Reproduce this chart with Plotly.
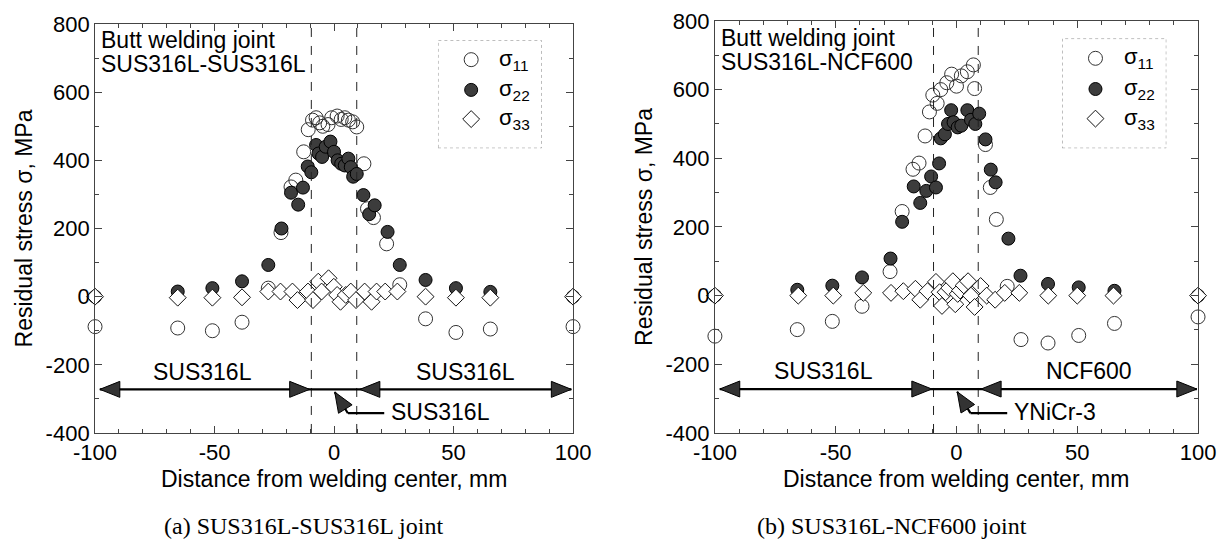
import math
import plotly.graph_objects as go

# ---------------- data: panel (a) SUS316L-SUS316L ----------------
a_s11_x = [-100, -65.4, -50.9, -38.5, -27.5, -22.2, -18, -16, -12.7, -10.8, -9, -7.5, -6, -4.7, -2.5, -1, 1.3, 3, 4.5, 6, 7.8, 9.5, 12.5, 14, 16.5, 22, 27.5, 38.3, 51, 65.4, 100]
a_s11_y = [-88, -92, -100, -75, 25, 188, 322, 342, 425, 490, 518, 525, 510, 500, 505, 525, 530, 520, 525, 518, 513, 498, 390, 258, 232, 155, 35, -65, -105, -95, -88]
a_s22_x = [-100, -65.4, -50.9, -38.5, -27.5, -22, -18, -15, -13, -11, -9.5, -7.5, -6.5, -5, -3.5, -1.5, 0, 1.5, 3, 4.5, 6, 7, 8, 9.5, 12.3, 14.7, 17, 22.4, 27.5, 38.3, 51, 65.4, 100]
a_s22_y = [0, 15, 25, 45, 93, 200, 305, 270, 320, 382, 365, 445, 420, 410, 440, 455, 425, 400, 390, 385, 405, 380, 352, 360, 298, 242, 268, 190, 93, 49, 25, 14, 0]
a_s33_x = [-100, -65.4, -50.9, -38.5, -27.5, -22.4, -17.4, -15.3, -10.9, -8.8, -6.6, -5.2, -2.3, -0.1, 1.3, 2.7, 4.9, 7, 9.2, 12.8, 15.7, 17.8, 21.4, 26.5, 38.3, 51, 65.4, 100]
a_s33_y = [0, -3, -3, -2, 15, 15, 15, -10, 15, -10, 44, 15, 54, 29, 5, -15, 5, 15, -10, 15, -15, 15, 15, 15, 0, -3, -3, 0]

# ---------------- data: panel (b) SUS316L-NCF600 ----------------
b_s11_x = [-100, -65.9, -51.4, -39.1, -27.5, -22.5, -18, -15.5, -13, -11.2, -9.8, -8, -6.5, -4, -2, 0, 2, 4.5, 7, 7.5, 12, 14, 16.5, 21, 26.7, 37.9, 50.6, 65.4, 100]
b_s11_y = [-118, -99, -75, -31, 70, 245, 368, 386, 465, 535, 584, 560, 600, 620, 645, 610, 640, 652, 672, 603, 440, 315, 222, 27, -128, -138, -116, -81, -62]
b_s22_x = [-100, -65.9, -51.4, -39.1, -27.3, -22.5, -17.7, -15, -12.5, -10.5, -8.5, -7.2, -6.5, -4.8, -3.5, -2.2, -1.2, 0.5, 2, 4.5, 6, 7.8, 9.4, 12, 14.2, 16.2, 21.5, 26.5, 37.9, 50.6, 65.4, 100]
b_s22_y = [0, 17, 29, 53, 108, 215, 318, 270, 305, 347, 315, 385, 458, 470, 500, 540, 505, 490, 495, 540, 512, 500, 530, 455, 367, 330, 166, 58, 34, 24, 14, 0]
b_s33_x = [-100, -65.5, -51, -38.6, -27.1, -22, -17, -15, -12, -8.5, -7, -6, -4.5, -3, -1.5, -0.5, 0.5, 1.5, 3, 4.8, 6, 7.5, 10, 12.5, 16, 20, 26, 38, 50, 65, 100]
b_s33_y = [0, 0, 0, 8, 8, 13, 20, -12, 13, 40, 10, -30, 10, 22, 42, -25, 5, 15, 30, 42, 0, -33, 28, 0, -12, 8, 8, 0, 0, 0, 0]

# weld zone boundaries (dashed lines)
a_weld = [-9.5, 9.5]
b_weld = [-9.5, 9]

# axis ticks
x_ticks = [-100, -50, 0, 50, 100]
x_ticktext = ["-100", "-50", "0", "50", "100"]
y_ticks = [-400, -200, 0, 200, 400, 600, 800]
y_ticktext = ["-400", "-200", "0", "200", "400", "600", "800"]

legend_names = ["σ<sub>11</sub>", "σ<sub>22</sub>", "σ<sub>33</sub>"]

FONT = "Liberation Sans, Arial, Helvetica, sans-serif"
SERIF = "Liberation Serif, DejaVu Serif, serif"
FRAME = "#444444"
TXT = 23
W_PX, H = 1220, 551

def py(px):
    """pixel row (from top) -> paper y"""
    return (H - px) / H

fig = go.Figure()

s11_style = dict(symbol="circle-open", size=14, color="#333333", line=dict(width=1, color="#333333"))
s22_style = dict(symbol="circle", size=13, color="#3c3c3c", line=dict(width=1, color="#000000"))
s33_style = dict(symbol="diamond", size=13, color="white", line=dict(width=1, color="#111111"))

for xa, ya, sets in [("x", "y", [(a_s11_x, a_s11_y, s11_style), (a_s22_x, a_s22_y, s22_style), (a_s33_x, a_s33_y, s33_style)]),
                     ("x2", "y2", [(b_s11_x, b_s11_y, s11_style), (b_s22_x, b_s22_y, s22_style), (b_s33_x, b_s33_y, s33_style)])]:
    for xs, ys, st in sets:
        fig.add_trace(go.Scatter(x=xs, y=ys, mode="markers", marker=st, xaxis=xa, yaxis=ya,
                                 showlegend=False, cliponaxis=False, hoverinfo="skip"))

# legend markers on overlay axes
leg_y = [0.82, 0.54, 0.27]
for xa, ya in [("x3", "y3"), ("x4", "y4")]:
    for st, yy in zip([s11_style, s22_style, s33_style], leg_y):
        fig.add_trace(go.Scatter(x=[0.32], y=[yy], mode="markers", marker=st, xaxis=xa, yaxis=ya,
                                 showlegend=False, cliponaxis=False, hoverinfo="skip"))

axis_common = dict(showgrid=False, zeroline=False, showline=True, linecolor=FRAME, linewidth=1,
                   mirror="ticks", ticks="inside", tickcolor=FRAME, ticklen=7,
                   tickfont=dict(family=FONT, size=22, color="black"), automargin=False)

XR, YR = [-100, 100], [-400, 800]
xd_a = [0.0779, 0.4697]
xd_b = [0.586, 0.982]
yd_a = [0.2142, 0.9564]
yd_b = [0.2142, 0.9620]
yt = dict(text="Residual stress σ, MPa", font=dict(family=FONT, size=TXT, color="black"), standoff=6)
fig.update_layout(
    template="none",
    width=W_PX, height=H, margin=dict(l=0, r=0, t=0, b=0),
    paper_bgcolor="white", plot_bgcolor="white",
    font=dict(family=FONT, color="black"),
    xaxis=dict(domain=xd_a, range=XR, tickmode="array", tickvals=x_ticks, ticktext=x_ticktext,
               minor=dict(dtick=10, ticklen=4, ticks="inside", tickcolor=FRAME, showgrid=False),
               anchor="y", **axis_common),
    yaxis=dict(domain=yd_a, range=YR, tickmode="array", tickvals=y_ticks, ticktext=y_ticktext,
               minor=dict(dtick=100, ticklen=4, ticks="inside", tickcolor=FRAME, showgrid=False),
               title=yt, anchor="x", **axis_common),
    xaxis2=dict(domain=xd_b, range=XR, tickmode="array", tickvals=x_ticks, ticktext=x_ticktext,
                minor=dict(dtick=10, ticklen=4, ticks="inside", tickcolor=FRAME, showgrid=False),
                anchor="y2", **axis_common),
    yaxis2=dict(domain=yd_b, range=YR, tickmode="array", tickvals=y_ticks, ticktext=y_ticktext,
                minor=dict(dtick=100, ticklen=4, ticks="inside", tickcolor=FRAME, showgrid=False),
                title=yt, anchor="x2", **axis_common),
    xaxis3=dict(domain=[0.359, 0.444], range=[0, 1], visible=False, anchor="y3"),
    yaxis3=dict(domain=[0.731, 0.927], range=[0, 1], visible=False, anchor="x3"),
    xaxis4=dict(domain=[0.8706, 0.956], range=[0, 1], visible=False, anchor="y4"),
    yaxis4=dict(domain=[0.731, 0.930], range=[0, 1], visible=False, anchor="x4"),
)

shapes = []
annotations = []

# legend boxes + texts
for xa, ya in [("x3", "y3"), ("x4", "y4")]:
    shapes.append(dict(type="rect", xref=xa, yref=ya, x0=0, x1=1, y0=0, y1=1,
                       line=dict(color="#888888", width=1, dash="dot"), layer="below"))
    for name, yy in zip(legend_names, leg_y):
        annotations.append(dict(xref=xa, yref=ya, x=0.57, y=yy, text=name, showarrow=False,
                                xanchor="left", yanchor="middle", font=dict(family=FONT, size=22, color="black")))


def arrow_head(xa, ya, sx, sy, tip, tail, L=20.0, Wh=8.0):
    """filled triangular arrowhead (as a path shape) pointing from tail to tip; sizes in pixels"""
    dxp = (tip[0] - tail[0]) * sx
    dyp = (tip[1] - tail[1]) * sy
    n = math.hypot(dxp, dyp)
    ux, uy = dxp / n, dyp / n
    px_, py_ = -uy, ux
    pts = [tip,
           (tip[0] + (-ux * L + px_ * Wh) / sx, tip[1] + (-uy * L + py_ * Wh) / sy),
           (tip[0] + (-ux * L - px_ * Wh) / sx, tip[1] + (-uy * L - py_ * Wh) / sy)]
    path = "M {} {} L {} {} L {} {} Z".format(*[round(v, 4) for p in pts for v in p])
    return dict(type="path", xref=xa, yref=ya, path=path, fillcolor="#333333",
                line=dict(color="black", width=1))


def line(xa, ya, p0, p1, w=2.2):
    return dict(type="line", xref=xa, yref=ya, x0=p0[0], y0=p0[1], x1=p1[0], y1=p1[1],
                line=dict(color="black", width=w))


panels = [
    dict(xa="x", ya="y", xd=xd_a, yd=yd_a, weld=a_weld, title=["Butt welding joint", "SUS316L-SUS316L"], ty=[40, 64],
         left="SUS316L", right="SUS316L", weldname="SUS316L",
         la=(-98, -10.2), ra=(10.8, 99.3)),
    dict(xa="x2", ya="y2", xd=xd_b, yd=yd_b, weld=b_weld, title=["Butt welding joint", "SUS316L-NCF600"], ty=[38, 62],
         left="SUS316L", right="NCF600", weldname="YNiCr-3",
         la=(-98, -10.2), ra=(10.2, 99.5)),
]
ARR_Y = -272
for p in panels:
    xa, ya = p["xa"], p["ya"]
    sx = (p["xd"][1] - p["xd"][0]) * W_PX / (XR[1] - XR[0])   # px per mm
    sy = (p["yd"][1] - p["yd"][0]) * H / (YR[1] - YR[0])       # px per MPa
    for wx in p["weld"]:
        shapes.append(dict(type="line", xref=xa, yref=ya, x0=wx, x1=wx, y0=YR[0], y1=YR[1],
                           line=dict(color="#222222", width=1, dash="dash")))
    # main horizontal line through both material arrows
    shapes.append(line(xa, ya, (p["la"][0], ARR_Y), (p["ra"][1], ARR_Y)))
    # double arrow heads
    for (x0, x1) in [p["la"], p["ra"]]:
        shapes.append(arrow_head(xa, ya, sx, sy, (x1, ARR_Y), (x0, ARR_Y)))
        shapes.append(arrow_head(xa, ya, sx, sy, (x0, ARR_Y), (x1, ARR_Y)))
    # region labels
    annotations.append(dict(xref=xa, yref=ya, x=-55, y=-220, text=p["left"], showarrow=False,
                            xanchor="center", yanchor="middle", font=dict(family=FONT, size=TXT, color="black")))
    annotations.append(dict(xref=xa, yref=ya, x=55, y=-220, text=p["right"], showarrow=False,
                            xanchor="center", yanchor="middle", font=dict(family=FONT, size=TXT, color="black")))
    # weld metal pointer: horizontal leader, short diagonal, arrowhead
    corner = (5.8, -342)
    tip = (0.3, -280)
    shapes.append(line(xa, ya, corner, (21, -342)))
    shapes.append(line(xa, ya, corner, tip))
    shapes.append(arrow_head(xa, ya, sx, sy, tip, corner))
    annotations.append(dict(xref=xa, yref=ya, x=23, y=-338, text=p["weldname"], showarrow=False,
                            xanchor="left", yanchor="middle", font=dict(family=FONT, size=TXT, color="black")))
    # title text in panel (two lines, tight spacing)
    for txt, tyy in zip(p["title"], p["ty"]):
        annotations.append(dict(xref=xa + " domain", yref="paper", x=0.008, y=py(tyy), text=txt,
                                showarrow=False, xanchor="left", yanchor="middle",
                                font=dict(family=FONT, size=TXT, color="black")))
    # x-axis title
    annotations.append(dict(xref="paper", yref="paper", x=(p["xd"][0] + p["xd"][1]) / 2, y=py(479),
                            text="Distance from welding center, mm", showarrow=False,
                            xanchor="center", yanchor="middle", font=dict(family=FONT, size=TXT, color="black")))

# captions
annotations.append(dict(xref="paper", yref="paper", x=0.249, y=py(526), text="(a) SUS316L-SUS316L joint",
                        showarrow=False, xanchor="center", yanchor="middle",
                        font=dict(family=SERIF, size=24, color="black")))
annotations.append(dict(xref="paper", yref="paper", x=0.731, y=py(526), text="(b) SUS316L-NCF600 joint",
                        showarrow=False, xanchor="center", yanchor="middle",
                        font=dict(family=SERIF, size=24, color="black")))

fig.update_layout(shapes=shapes, annotations=annotations)
fig.write_html("out.html", config={"displayModeBar": False},
               post_script="document.body.style.margin='0';document.body.style.overflow='hidden';")
